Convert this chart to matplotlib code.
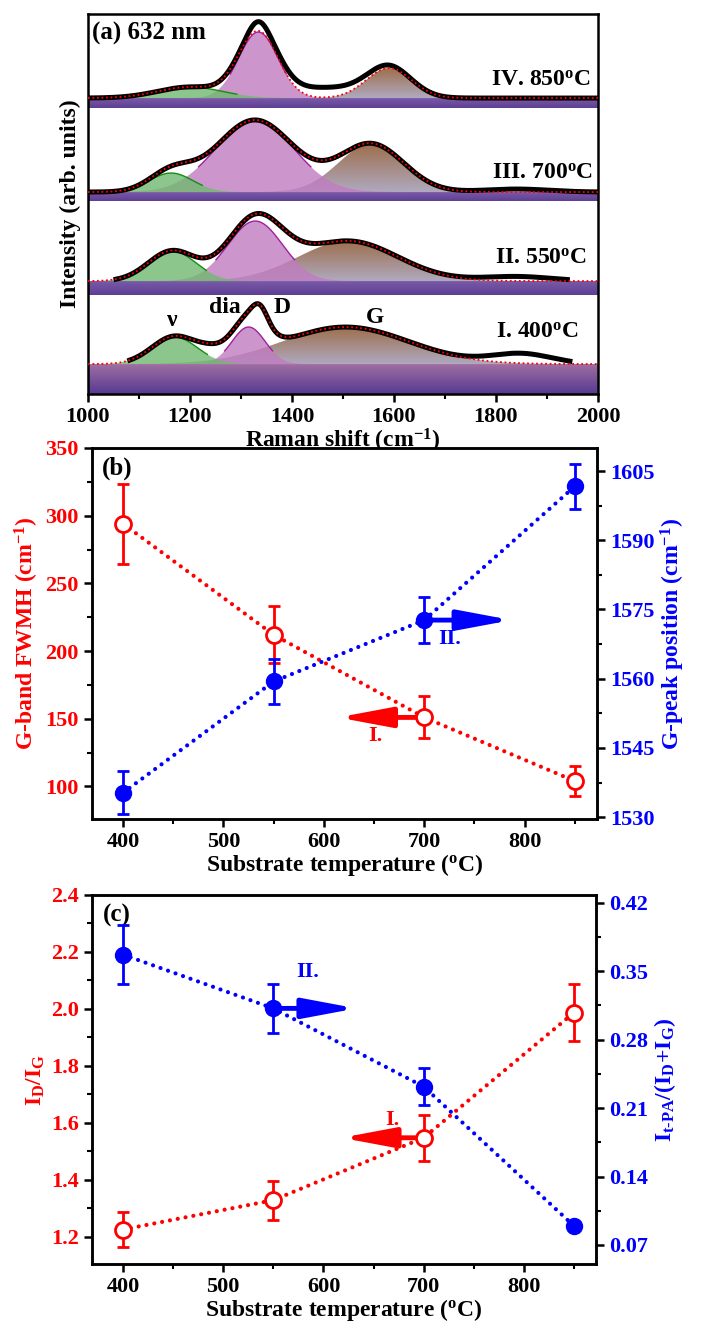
import numpy as np
import matplotlib
matplotlib.use('Agg')
import matplotlib.pyplot as plt
from matplotlib.colors import LinearSegmentedColormap
from matplotlib.ticker import MultipleLocator, FormatStrFormatter

plt.rcParams['font.family'] = ['Liberation Serif', 'DejaVu Serif']
plt.rcParams['font.weight'] = 'bold'
plt.rcParams['axes.labelweight'] = 'bold'
plt.rcParams['mathtext.fontset'] = 'custom'
plt.rcParams['mathtext.rm'] = 'Liberation Serif:bold'
plt.rcParams['mathtext.bf'] = 'Liberation Serif:bold'
plt.rcParams['mathtext.it'] = 'Liberation Serif:italic:bold'
plt.rcParams['mathtext.default'] = 'rm'

# ---------------- panel (a): fitted Raman spectra (632 nm) ----------------
spec_labels = ['I. 400$^\\mathrm{o}$C', 'II. 550$^\\mathrm{o}$C',
               'III. 700$^\\mathrm{o}$C', 'IV. 850$^\\mathrm{o}$C']
baselines = [30, 113, 202, 296]        # vertical offset of each spectrum
band_depth = [30, 14, 9, 10]           # purple band under each baseline
label_x = [1962, 1978, 1990, 1985]
label_y = [62, 136, 221, 314]

# fitted components: position, amplitude, FWHM
nu_pos = [1170, 1165, 1163, 1200]
nu_amp = [27, 30, 19, 11]
nu_fwhm = [105, 110, 100, 150]
d_pos = [1315, 1328, 1327, 1334]
d_amp = [37, 60, 72, 66]
d_fwhm = [77, 126, 179, 91]
g_pos = [1505, 1510, 1555, 1590]
g_amp = [37, 40, 48, 30]
g_fwhm = [294, 230, 151, 104]
# extra parts of the fit that are not shaded (spectrum, pos, amp, fwhm)
fit_extra = [(0, 1338, 15, 35), (0, 1240, 6, 60)]
# parts of the measured data not covered by the fit
data_extra = [(0, 1850, 10, 140), (1, 1840, 4.5, 160), (2, 1840, 3, 150),
              (3, 1460, 10, 170), (3, 1334, 7, 40), (3, 1590, 1, 60)]
data_start = [1082, 1055, 1000, 1000]
data_end = [1945, 1940, 2000, 2000]

# ---------------- panels (b) and (c) ----------------
temps = [400, 550, 700, 850]
fwhm_G = [294, 212, 151, 104]
fwhm_G_err = [29.5, 21, 15.5, 11]
pos_G = [1535.3, 1559.4, 1572.7, 1601.7]
pos_G_err = [4.7, 4.8, 4.9, 4.9]
id_ig = [1.226, 1.329, 1.548, 1.987]
id_ig_err = [0.063, 0.068, 0.080, 0.100]
itpa = [0.367, 0.312, 0.232, 0.0895]
itpa_err = [0.030, 0.025, 0.019, 0.004]

RED = '#ff0000'
BLUE = '#0000ff'
ARROW = '-|>,head_length=1.6,head_width=0.3'


def gauss(x, p, a, w):
    return a * np.exp(-4 * np.log(2) * (x - p) ** 2 / w ** 2)


def grad_fill(ax, x, ybot, ytop, c_bot, c_top, z, alpha=1.0):
    poly = ax.fill_between(x, ybot, ytop, facecolor='none', edgecolor='none')
    cmap = LinearSegmentedColormap.from_list('g', [c_bot, c_top])
    grad = np.linspace(0, 1, 256).reshape(-1, 1)
    im = ax.imshow(grad, extent=[x.min(), x.max(), np.min(ybot), np.max(ytop)],
                   origin='lower', aspect='auto', cmap=cmap, alpha=alpha,
                   zorder=z, interpolation='bilinear')
    im.set_clip_path(poly.get_paths()[0], transform=ax.transData)


fig = plt.figure(figsize=(7.01, 13.38), dpi=100)

# ======== (a) ========
ax = fig.add_axes([0.1255, 0.7055, 0.7275, 0.284])
x = np.linspace(1000, 2000, 1001)
for i in range(4):
    b = baselines[i]
    # purple band below baseline
    if i == 0:
        grad_fill(ax, x, np.full_like(x, b - band_depth[i]), np.full_like(x, b),
                  '#553a92', '#a06ea2', 1)
    else:
        grad_fill(ax, x, np.full_like(x, b - band_depth[i]), np.full_like(x, b),
                  '#5d3f93', '#7a5aa8', 1)
    nu = gauss(x, nu_pos[i], nu_amp[i], nu_fwhm[i])
    d = gauss(x, d_pos[i], d_amp[i], d_fwhm[i])
    g = gauss(x, g_pos[i], g_amp[i], g_fwhm[i])
    grad_fill(ax, x, np.full_like(x, b), b + g, '#a6a0b8', '#935e38', 2, 0.9)
    ax.fill_between(x, b, b + d, facecolor='#c07cc0', edgecolor='none',
                    alpha=0.8, zorder=3)
    md = d > 0.35 * d_amp[i]
    ax.plot(x[md], b + d[md], color='#a020a0', lw=1.0, zorder=3)
    ax.fill_between(x, b, b + nu, facecolor='#70b870', edgecolor='none',
                    alpha=0.8, zorder=4)
    mn = nu > 0.35 * nu_amp[i]
    ax.plot(x[mn], b + nu[mn], color='#109010', lw=1.0, zorder=4)
    fit = nu + d + g
    for k, p, a, w in fit_extra:
        if k == i:
            fit = fit + gauss(x, p, a, w)
    data = fit.copy()
    for k, p, a, w in data_extra:
        if k == i:
            data = data + gauss(x, p, a, w)
    m = (x >= data_start[i]) & (x <= data_end[i])
    ax.plot(x[m], b + data[m], color='black', lw=3.6, zorder=5)
    ax.plot(x, b + fit, color=RED, lw=1.3, ls=(0, (1, 1.5)), zorder=6)
    ax.text(label_x[i], label_y[i], spec_labels[i], ha='right', va='center',
            fontsize=17, zorder=7)

ax.text(1008, 361, '(a) 632 nm', ha='left', va='center', fontsize=18)
ax.text(1166, 74, 'ν', ha='center', va='center', fontsize=17)
ax.text(1268, 87, 'dia', ha='center', va='center', fontsize=17)
ax.text(1381, 87, 'D', ha='center', va='center', fontsize=17)
ax.text(1562, 77, 'G', ha='center', va='center', fontsize=17)
ax.set_xlim(1000, 2000)
ax.set_ylim(0, 380)
ax.set_yticks([])
ax.xaxis.set_major_locator(MultipleLocator(200))
ax.xaxis.set_minor_locator(MultipleLocator(100))
ax.set_xlabel('Raman shift (cm$^{-1}$)', fontsize=17, labelpad=0)
ax.set_ylabel('Intensity (arb. units)', fontsize=17, labelpad=5)


def style(a):
    for s in a.spines.values():
        s.set_linewidth(1.8)
    a.tick_params(which='major', direction='out', length=6, width=1.8, labelsize=16)
    a.tick_params(which='minor', direction='out', length=3.5, width=1.5)


style(ax)

# ======== (b) ========
axb = fig.add_axes([0.1312, 0.3879, 0.7204, 0.2773])
axbr = axb.twinx()
axb.plot(temps, fwhm_G, color=RED, lw=3, ls=(0, (0.01, 1.9)),
         dash_capstyle='round', zorder=2)
axb.errorbar(temps, fwhm_G, yerr=fwhm_G_err, fmt='none', ecolor=RED,
             elinewidth=2, capsize=4, capthick=2, zorder=3)
axb.plot(temps, fwhm_G, 'o', ms=11.5, mfc='white', mec=RED, mew=2, zorder=4)
axbr.plot(temps, pos_G, color=BLUE, lw=3, ls=(0, (0.01, 1.9)),
          dash_capstyle='round', zorder=2)
axbr.errorbar(temps, pos_G, yerr=pos_G_err, fmt='none', ecolor=BLUE,
              elinewidth=2, capsize=4, capthick=2, zorder=3)
axbr.plot(temps, pos_G, 'o', ms=11.5, color=BLUE, zorder=4)
axb.annotate('', xy=(614, fwhm_G[2]), xytext=(700, fwhm_G[2]),
             arrowprops=dict(arrowstyle=ARROW, color=RED, lw=3.5, shrinkA=0,
                             shrinkB=0, mutation_scale=20), zorder=1)
axb.text(651, 137, 'I.', color=RED, fontsize=16, ha='center', va='center')
axbr.annotate('', xy=(787, pos_G[2]), xytext=(700, pos_G[2]),
              arrowprops=dict(arrowstyle=ARROW, color=BLUE, lw=3.5, shrinkA=0,
                              shrinkB=0, mutation_scale=20), zorder=1)
axbr.text(725, 1568.7, 'II.', color=BLUE, fontsize=16, ha='center', va='center')
axb.text(0.02, 0.945, '(b)', transform=axb.transAxes, fontsize=18,
         ha='left', va='center')

axb.set_xlim(369, 872)
axb.set_ylim(76, 350)
axbr.set_ylim(1529.6, 1610)
axb.xaxis.set_major_locator(MultipleLocator(100))
axb.xaxis.set_minor_locator(MultipleLocator(50))
axb.yaxis.set_major_locator(MultipleLocator(50))
axb.yaxis.set_minor_locator(MultipleLocator(25))
axbr.yaxis.set_major_locator(MultipleLocator(15))
axbr.yaxis.set_minor_locator(MultipleLocator(7.5))
style(axb)
style(axbr)
axb.tick_params(axis='y', labelcolor=RED)
axbr.tick_params(axis='y', labelcolor=BLUE)
axb.set_xlabel('Substrate temperature ($^\\mathrm{o}$C)', fontsize=17, labelpad=0)
axb.set_ylabel('G-band FWMH (cm$^{-1}$)', color=RED, fontsize=17, labelpad=3)
axbr.set_ylabel('G-peak position (cm$^{-1}$)', color=BLUE, fontsize=17, labelpad=3)

# ======== (c) ========
axc = fig.add_axes([0.1312, 0.0553, 0.719, 0.2758])
axcr = axc.twinx()
axc.plot(temps, id_ig, color=RED, lw=3, ls=(0, (0.01, 1.9)),
         dash_capstyle='round', zorder=2)
axc.errorbar(temps, id_ig, yerr=id_ig_err, fmt='none', ecolor=RED,
             elinewidth=2, capsize=4, capthick=2, zorder=3)
axc.plot(temps, id_ig, 'o', ms=11.5, mfc='white', mec=RED, mew=2, zorder=4)
axcr.plot(temps, itpa, color=BLUE, lw=3, ls=(0, (0.01, 1.9)),
          dash_capstyle='round', zorder=2)
axcr.errorbar(temps, itpa, yerr=itpa_err, fmt='none', ecolor=BLUE,
              elinewidth=2, capsize=4, capthick=2, zorder=3)
axcr.plot(temps, itpa, 'o', ms=11.5, color=BLUE, zorder=4)
axc.annotate('', xy=(618, id_ig[2]), xytext=(700, id_ig[2]),
             arrowprops=dict(arrowstyle=ARROW, color=RED, lw=3.5, shrinkA=0,
                             shrinkB=0, mutation_scale=20), zorder=1)
axc.text(669, 1.61, 'I.', color=RED, fontsize=16, ha='center', va='center')
axcr.annotate('', xy=(633, itpa[1]), xytext=(550, itpa[1]),
              arrowprops=dict(arrowstyle=ARROW, color=BLUE, lw=3.5, shrinkA=0,
                              shrinkB=0, mutation_scale=20), zorder=1)
axcr.text(584, 0.349, 'II.', color=BLUE, fontsize=16, ha='center', va='center')
axc.text(0.022, 0.944, '(c)', transform=axc.transAxes, fontsize=18,
         ha='left', va='center')

axc.set_xlim(369, 872)
axc.set_ylim(1.105, 2.4)
axcr.set_ylim(0.0505, 0.428)
axc.xaxis.set_major_locator(MultipleLocator(100))
axc.xaxis.set_minor_locator(MultipleLocator(50))
axc.yaxis.set_major_locator(MultipleLocator(0.2))
axc.yaxis.set_minor_locator(MultipleLocator(0.1))
axc.yaxis.set_major_formatter(FormatStrFormatter('%.1f'))
axcr.yaxis.set_major_locator(MultipleLocator(0.07))
axcr.yaxis.set_minor_locator(MultipleLocator(0.035))
axcr.yaxis.set_major_formatter(FormatStrFormatter('%.2f'))
style(axc)
style(axcr)
axc.tick_params(axis='y', labelcolor=RED)
axcr.tick_params(axis='y', labelcolor=BLUE)
axc.set_xlabel('Substrate temperature ($^\\mathrm{o}$C)', fontsize=17, labelpad=0)
axc.set_ylabel('I$_\\mathrm{D}$/I$_\\mathrm{G}$', color=RED, fontsize=17, labelpad=3)
axcr.set_ylabel('I$_\\mathrm{t\\text{-}PA}$/(I$_\\mathrm{D}$+I$_\\mathrm{G}$)',
                color=BLUE, fontsize=17, labelpad=3)

fig.savefig('out.png', dpi=100)
